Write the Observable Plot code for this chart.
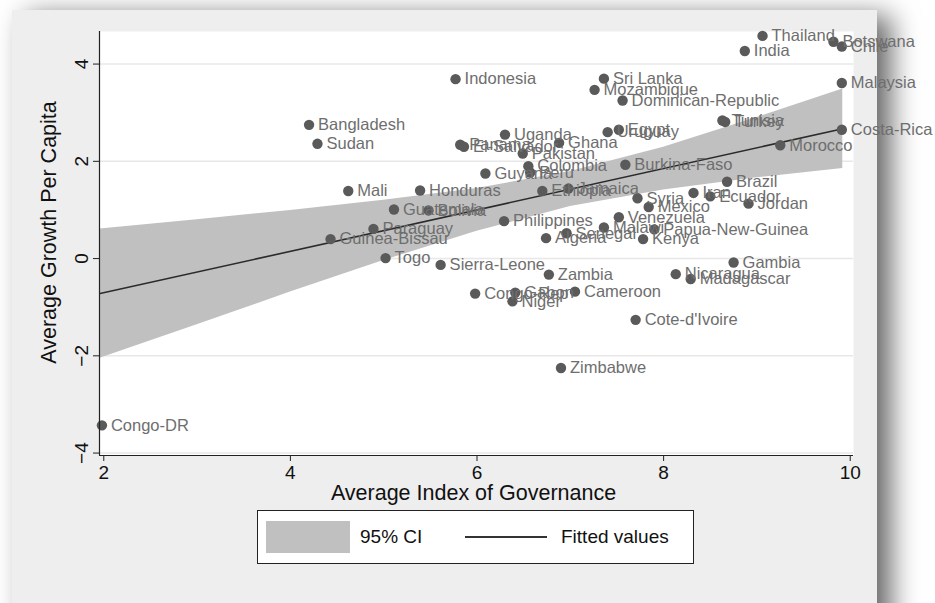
<!DOCTYPE html>
<html><head><meta charset="utf-8">
<script src="https://cdn.jsdelivr.net/npm/d3@7"></script>
<script src="https://cdn.jsdelivr.net/npm/@observablehq/plot@0.6"></script>
<style>
html,body{margin:0;padding:0;}
body{background:#fff;width:935px;height:603px;overflow:hidden;position:relative;font-family:"Liberation Sans",Arial,sans-serif;}
#panel{position:absolute;left:12px;top:10px;width:865px;height:640px;background:#eeeeee;box-shadow:14px 6px 26px rgba(0,0,0,0.6);}
#chart{position:absolute;left:0;top:0;}
#legend{position:absolute;left:257px;top:510px;width:437px;height:54px;border:1px solid #222;background:#fff;box-sizing:border-box;}
#legend .sw{position:absolute;left:8px;top:10px;width:84px;height:32px;background:#c0c0c0;}
#legend .t1{position:absolute;left:102px;top:0;line-height:52px;font-size:19px;color:#111;}
#legend .ln{position:absolute;left:207px;top:25px;width:82px;height:2px;background:#333;}
#legend .t2{position:absolute;left:303px;top:0;line-height:52px;font-size:19px;color:#111;}
</style>
</head><body>
<div id="panel"></div>
<div id="chart"></div>
<div id="legend"><div class="sw"></div><div class="t1">95% CI</div><div class="ln"></div><div class="t2">Fitted values</div></div>
<script>
// ---- data ----
const countries = ["Thailand","India","Botswana","Chile","Malaysia","Costa-Rica","Morocco","Tunisia","Turkey","Sri Lanka","Mozambique","Dominican-Republic","Indonesia","Bangladesh","Sudan","Mali","Uganda","Panama","El-Salvador","Pakistan","Ghana","Uruguay","Egypt","Colombia","Peru","Guyana","Burkina-Faso","Honduras","Ethiopia","Jamaica","Syria","Iran","Ecuador","Brazil","Jordan","Mexico","Venezuela","Malawi","Papua-New-Guinea","Kenya","Senegal","Algeria","Philippines","Guatemala","Bolivia","Paraguay","Guinea-Bissau","Togo","Sierra-Leone","Zambia","Congo-Rep","Gabon","Niger","Cameroon","Cote-d'Ivoire","Zimbabwe","Congo-DR","Gambia","Nicaragua","Madagascar"];
const governance = [9.06,8.87,9.82,9.91,9.91,9.91,9.25,8.63,8.66,7.36,7.26,7.56,5.77,4.20,4.29,4.62,6.30,5.82,5.86,6.49,6.88,7.40,7.52,6.55,6.57,6.09,7.59,5.39,6.70,6.98,7.72,8.32,8.50,8.68,8.91,7.84,7.52,7.36,7.90,7.78,6.96,6.74,6.29,5.11,5.48,4.89,4.43,5.02,5.61,6.77,5.98,6.41,6.38,7.05,7.70,6.90,1.98,8.75,8.13,8.29];
const growth = [4.58,4.27,4.46,4.36,3.61,2.65,2.33,2.84,2.81,3.70,3.47,3.25,3.69,2.75,2.36,1.39,2.55,2.34,2.30,2.16,2.38,2.60,2.65,1.90,1.77,1.75,1.93,1.40,1.39,1.44,1.24,1.35,1.28,1.58,1.13,1.06,0.85,0.64,0.60,0.40,0.52,0.42,0.77,1.01,0.99,0.61,0.40,0.01,-0.13,-0.33,-0.72,-0.70,-0.88,-0.68,-1.26,-2.25,-3.43,-0.08,-0.32,-0.42];

const ciX    = [1.96, 3, 4, 5, 6, 7, 8, 9, 9.92];
const ciLow  = [-2.05, -1.36, -0.69, -0.04, 0.56, 1.07, 1.41, 1.66, 1.85];
const ciHigh = [0.61, 0.80, 0.99, 1.20, 1.44, 1.79, 2.29, 2.90, 3.49];
const fitX   = [1.96, 9.92];
const fitY   = [-0.72, 2.67];

const xTicks = [2, 4, 6, 8, 10];
const yTicks = [-4, -2, 0, 2, 4];
const xDomain = [1.954, 10.035];
const yDomain = [-4.05, 4.67];
const xTitle = "Average Index of Governance";
const yTitle = "Average Growth Per Capita";

const points = countries.map((c, i) => ({name: c, x: governance[i], y: growth[i]}));
const band = ciX.map((x, i) => ({x, lo: ciLow[i], hi: ciHigh[i]}));
const fit = fitX.map((x, i) => ({x, y: fitY[i]}));

const chart = Plot.plot({
  width: 935,
  height: 520,
  marginLeft: 99,
  marginRight: 82,
  marginTop: 31,
  marginBottom: 65,
  style: {background: "transparent", fontFamily: "'Liberation Sans', Arial, sans-serif", overflow: "visible"},
  x: {domain: xDomain, axis: null},
  y: {domain: yDomain, axis: null},
  marks: [
    Plot.frame({fill: "white", stroke: "none"}),
    Plot.gridY(yTicks, {stroke: "#e8e8e8", strokeOpacity: 1, strokeWidth: 1.5}),
    Plot.areaY(band, {x: "x", y1: "lo", y2: "hi", fill: "#c0c0c0", fillOpacity: 1}),
    Plot.line(fit, {x: "x", y: "y", stroke: "#2b2b2b", strokeWidth: 1.6}),
    Plot.dot(points, {x: "x", y: "y", r: 5.2, fill: "#5a5a5a", stroke: "none"}),
    Plot.text(points, {x: "x", y: "y", text: "name", dx: 9, textAnchor: "start", fill: "#6e6e6e", fontSize: 16.5}),
    Plot.ruleX([xDomain[0]], {stroke: "#222", strokeWidth: 1.2}),
    Plot.ruleY([yDomain[0]], {stroke: "#222", strokeWidth: 1.2}),
    Plot.axisX({ticks: xTicks, tickSize: 6, tickPadding: 4, fontSize: 19, label: null, stroke: "#222", fill: "#111"}),
    Plot.axisY({ticks: yTicks, tickSize: 6, tickRotate: -90, tickPadding: 6, fontSize: 19, label: null, stroke: "#222", fill: "#111"}),
    Plot.text([xTitle], {text: d => d, frameAnchor: "bottom", dx: -3, dy: 44, fontSize: 21.5, fill: "#111"}),
    Plot.text([yTitle], {text: d => d, frameAnchor: "left", textAnchor: "middle", rotate: -90, dx: -50, dy: -11, fontSize: 21.5, fill: "#111"})
  ]
});
document.getElementById("chart").appendChild(chart);
</script>
</body></html>
